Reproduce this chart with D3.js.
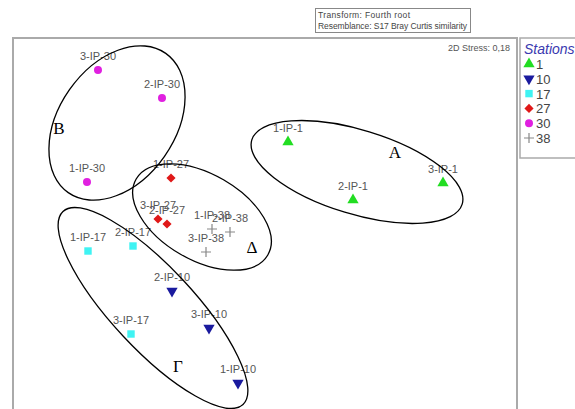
<!DOCTYPE html>
<html lang="en">
<head>
    <meta charset="UTF-8">
    <title>MDS stations</title>
    <script src="https://cdn.jsdelivr.net/npm/d3@7"></script>
    <style>
        body { margin: 0; background: #fff; }
        text { font-family: "Liberation Sans", Arial, sans-serif; }
    </style>
</head>
<body>
<svg width="575" height="409"></svg>
<script>
    // samples: name, station, MDS x, MDS y
    let sampleNames = ["1-IP-1", "2-IP-1", "3-IP-1", "1-IP-10", "2-IP-10", "3-IP-10",
        "1-IP-17", "2-IP-17", "3-IP-17", "1-IP-27", "2-IP-27", "3-IP-27",
        "1-IP-30", "2-IP-30", "3-IP-30", "1-IP-38", "2-IP-38", "3-IP-38"];
    let sampleStation = ["1", "1", "1", "10", "10", "10", "17", "17", "17",
        "27", "27", "27", "30", "30", "30", "38", "38", "38"];
    let mdsX = [0.23, 0.88, 1.78, -0.27, -0.93, -0.56, -1.77, -1.32, -1.34,
        -0.94, -0.98, -1.07, -1.78, -1.03, -1.67, -0.53, -0.35, -0.59];
    let mdsY = [0.86, 0.28, 0.45, -1.55, -0.63, -1.00, -0.23, -0.18, -1.06,
        0.50, 0.04, 0.09, 0.46, 1.30, 1.58, -0.01, -0.04, -0.24];

    let stations = ["1", "10", "17", "27", "30", "38"];
    let stationColors = ["#22dd22", "#1a1a9e", "#3ff3f3", "#e01818", "#e020e0", "#888888"];

    // group ellipses (MDS units): label, cx, cy, rx, ry, angle (deg)
    let groupLabels = ["A", "B", "\u0394", "\u0393"];
    let groupCx = [0.92, -1.48, -0.63, -1.12];
    let groupCy = [0.56, 1.05, 0.11, -0.80];
    let groupRx = [1.10, 0.85, 0.76, 1.32];
    let groupRy = [0.42, 0.58, 0.43, 0.41];
    let groupAngle = [17, -55, 30, 47];
    let groupTextX = [1.30, -2.06, -0.13, -0.87];
    let groupTextY = [0.76, 1.00, -0.19, -1.38];

    let stressText = "2D Stress: 0,18";
    let infoLines = ["Transform: Fourth root", "Resemblance: S17 Bray Curtis similarity"];

    var svg = d3.select("svg");

    var frame = {left: 13, top: 38, right: 517, bottom: 430};
    var x = d3.scaleLinear().domain([-2.5, 2.5]).range([15, 515]);
    var y = d3.scaleLinear().domain([-2.5, 2.5]).range([478, -22]);
    var unit = x(1) - x(0);

    // info box
    var info = svg.append("g");
    info.append("rect").attr("x", 315.5).attr("y", 8.5).attr("width", 155).attr("height", 24)
        .attr("fill", "#fff").attr("stroke", "#888").attr("stroke-width", 1);
    info.selectAll("text").data(infoLines).enter().append("text")
        .attr("x", 318).attr("y", function (d, i) { return 18 + i * 11; })
        .attr("font-size", 8.5).attr("fill", "#444")
        .attr("textLength", function (d, i) { return i == 0 ? 92 : 149; })
        .text(function (d) { return d; });

    // plot frame
    svg.append("clipPath").attr("id", "clip").append("rect")
        .attr("x", frame.left).attr("y", frame.top)
        .attr("width", frame.right - frame.left).attr("height", frame.bottom - frame.top);
    svg.append("rect").attr("x", frame.left).attr("y", frame.top)
        .attr("width", frame.right - frame.left).attr("height", frame.bottom - frame.top)
        .attr("fill", "none").attr("stroke", "#aaa").attr("stroke-width", 2);

    svg.append("text").attr("x", 510).attr("y", 51).attr("text-anchor", "end")
        .attr("font-size", 9).attr("fill", "#555").text(stressText);

    var plot = svg.append("g").attr("clip-path", "url(#clip)");

    function symbolFor(st) {
        var i = stations.indexOf(st);
        if (st == "1") return {type: d3.symbolTriangle, size: 55, rot: 0};
        if (st == "10") return {type: d3.symbolTriangle, size: 55, rot: 180};
        if (st == "17") return {type: d3.symbolSquare, size: 55, rot: 0};
        if (st == "27") return {type: d3.symbolSquare, size: 42, rot: 45};
        if (st == "30") return {type: d3.symbolCircle, size: 50, rot: 0};
        return null;
    }

    function drawMarker(g, st, px, py) {
        var c = stationColors[stations.indexOf(st)];
        var s = symbolFor(st);
        if (s) {
            g.append("path").attr("d", d3.symbol().type(s.type).size(s.size)())
                .attr("transform", "translate(" + px + "," + py + ") rotate(" + s.rot + ")")
                .attr("fill", c);
        } else {
            g.append("path").attr("d", "M" + (px - 5) + "," + py + "H" + (px + 5) + "M" + px + "," + (py - 5) + "V" + (py + 5))
                .attr("stroke", c).attr("stroke-width", 1.2).attr("fill", "none");
        }
    }

    // sample labels
    plot.selectAll(".lbl").data(sampleNames).enter().append("text")
        .attr("class", "lbl")
        .attr("x", function (d, i) { return x(mdsX[i]); })
        .attr("y", function (d, i) { return y(mdsY[i]) - 10; })
        .attr("text-anchor", "middle").attr("font-size", 11).attr("fill", "#555")
        .text(function (d) { return d; });

    // markers
    sampleNames.forEach(function (d, i) {
        drawMarker(plot, sampleStation[i], x(mdsX[i]), y(mdsY[i]));
    });

    // group ellipses
    plot.selectAll(".grp").data(groupLabels).enter().append("ellipse")
        .attr("class", "grp")
        .attr("cx", 0).attr("cy", 0)
        .attr("rx", function (d, i) { return groupRx[i] * unit; })
        .attr("ry", function (d, i) { return groupRy[i] * unit; })
        .attr("transform", function (d, i) {
            return "translate(" + x(groupCx[i]) + "," + y(groupCy[i]) + ") rotate(" + groupAngle[i] + ")";
        })
        .attr("fill", "none").attr("stroke", "#000").attr("stroke-width", 1.3);

    plot.selectAll(".gtxt").data(groupLabels).enter().append("text")
        .attr("class", "gtxt")
        .attr("x", function (d, i) { return x(groupTextX[i]); })
        .attr("y", function (d, i) { return y(groupTextY[i]) + 6; })
        .attr("text-anchor", "middle")
        .style("font-family", "'Liberation Serif', 'Times New Roman', serif")
        .attr("font-size", 17).attr("fill", "#000")
        .text(function (d) { return d; });

    // legend
    var lg = svg.append("g");
    lg.append("rect").attr("x", 520).attr("y", 38).attr("width", 70).attr("height", 120)
        .attr("fill", "#fff").attr("stroke", "#aaa").attr("stroke-width", 1.5);
    lg.append("text").attr("x", 524).attr("y", 54).attr("font-size", 14)
        .attr("font-style", "italic").attr("fill", "#3a3ab0").text("Stations");
    stations.forEach(function (st, i) {
        var yy = 64 + i * 14.8;
        drawMarker(lg, st, 529, yy);
        lg.append("text").attr("x", 536).attr("y", yy + 5).attr("font-size", 13)
            .attr("fill", "#444").text(st);
    });
</script>
</body>
</html>
